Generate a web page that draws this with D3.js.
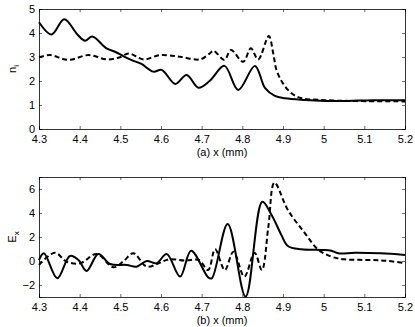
<!DOCTYPE html>
<html>
<head>
<meta charset="utf-8">
<script src="https://cdn.jsdelivr.net/npm/d3@7"></script>
<style>
body { margin: 0; background: #fff; }
svg { font-family: "Liberation Sans", Arial, sans-serif; }
.tick text { font-size: 11px; }
</style>
</head>
<body>
<svg id="chart" width="415" height="327"></svg>
<script>
var xTicks = [4.3, 4.4, 4.5, 4.6, 4.7, 4.8, 4.9, 5, 5.1, 5.2];

// panel (a): n_i
var niSolid = [
  [4.300, 4.45], [4.331, 3.94], [4.362, 4.57], [4.394, 3.95], [4.413, 3.68],
  [4.431, 3.85], [4.466, 3.36], [4.487, 3.22], [4.507, 3.04], [4.528, 2.87],
  [4.552, 2.71], [4.581, 2.39], [4.602, 2.46], [4.635, 1.88], [4.663, 2.25],
  [4.692, 1.72], [4.720, 2.01], [4.756, 2.63], [4.790, 1.63], [4.831, 2.63],
  [4.856, 1.70], [4.880, 1.38], [4.905, 1.28], [4.954, 1.21], [5.003, 1.17],
  [5.052, 1.17], [5.120, 1.20], [5.200, 1.20]
];
var niDashed = [
  [4.300, 2.99], [4.327, 3.08], [4.372, 2.88], [4.422, 3.08], [4.466, 2.90],
  [4.499, 2.99], [4.520, 3.15], [4.557, 2.90], [4.598, 3.08], [4.647, 3.01],
  [4.696, 2.90], [4.720, 3.15], [4.729, 3.26], [4.756, 2.88], [4.772, 3.29],
  [4.802, 2.80], [4.821, 3.36], [4.839, 2.90], [4.865, 3.87], [4.876, 3.15],
  [4.884, 2.46], [4.900, 1.90], [4.921, 1.49], [4.946, 1.28], [4.995, 1.21],
  [5.060, 1.17], [5.200, 1.15]
];

// panel (b): E_x
var exSolid = [
  [4.300, 0.08], [4.312, 0.64], [4.345, -1.44], [4.376, 0.42], [4.397, 0.08],
  [4.417, -0.83], [4.446, 0.58], [4.475, -0.25], [4.516, -0.33], [4.540, -0.47],
  [4.565, 0.00], [4.589, -0.19], [4.614, 0.58], [4.647, -1.30], [4.674, 0.86],
  [4.716, -1.36], [4.725, -1.44], [4.764, 3.08], [4.808, -2.97], [4.849, 4.94],
  [4.872, 3.83], [4.896, 2.17], [4.912, 1.25], [4.945, 0.97], [4.995, 0.92],
  [5.019, 0.86], [5.036, 0.64], [5.077, 0.69], [5.140, 0.64], [5.200, 0.50]
];
var exDashed = [
  [4.300, -0.33], [4.339, 0.69], [4.368, -0.06], [4.401, -0.19], [4.442, 0.58],
  [4.483, -0.53], [4.508, 0.00], [4.532, 0.64], [4.565, -0.47], [4.594, -0.19],
  [4.619, 0.14], [4.660, 0.03], [4.693, 0.08], [4.716, -0.75], [4.733, 0.97],
  [4.757, -0.75], [4.778, 0.78], [4.805, -1.30], [4.830, 0.69], [4.848, -0.75],
  [4.864, 2.86], [4.879, 6.53], [4.912, 4.25], [4.954, 2.31], [4.986, 0.97],
  [5.019, 0.36], [5.052, 0.14], [5.118, 0.08], [5.160, 0.00], [5.200, -0.19]
];

var svg = d3.select("#chart");
var left = 39, right = 405;

function panel(top, bottom, yDomain, yTicks, solid, dashed, yLabel, xLabel) {
  var x = d3.scaleLinear().domain([4.3, 5.2]).range([left, right]);
  var y = d3.scaleLinear().domain(yDomain).range([bottom, top]);
  var g = svg.append("g");

  var line = d3.line()
    .x(function(d) { return x(d[0]); })
    .y(function(d) { return y(d[1]); })
    .curve(d3.curveCatmullRom.alpha(0.5));

  g.append("path").datum(dashed)
    .attr("d", line).attr("fill", "none").attr("stroke", "#000")
    .attr("stroke-width", 2).attr("stroke-dasharray", "5,3");
  g.append("path").datum(solid)
    .attr("d", line).attr("fill", "none").attr("stroke", "#000")
    .attr("stroke-width", 2);

  // axes, ticks pointing inward
  g.append("g").attr("transform", "translate(0," + bottom + ")")
    .call(d3.axisBottom(x).tickValues(xTicks).tickSize(-3).tickPadding(6)
      .tickFormat(d3.format("")));
  g.append("g").attr("transform", "translate(0," + top + ")")
    .call(d3.axisTop(x).tickValues(xTicks).tickSize(-3).tickFormat(""));
  g.append("g").attr("transform", "translate(" + left + ",0)")
    .call(d3.axisLeft(y).tickValues(yTicks).tickSize(-3).tickPadding(4)
      .tickFormat(function(d) { return d < 0 ? "\u2212" + Math.abs(d) : d; }));
  g.append("g").attr("transform", "translate(" + right + ",0)")
    .call(d3.axisRight(y).tickValues(yTicks).tickSize(-3).tickFormat(""));

  g.selectAll(".domain").attr("stroke", "#000").attr("stroke-width", 0.8);
  g.selectAll(".tick line").attr("stroke", "#000").attr("stroke-width", 0.6);
  g.selectAll(".tick text").attr("fill", "#000");

  g.append("text")
    .attr("transform", "translate(16," + ((top + bottom) / 2) + ") rotate(-90)")
    .attr("text-anchor", "middle").attr("font-size", 11)
    .html(yLabel);
  g.append("text")
    .attr("x", (left + right) / 2).attr("y", bottom + 27)
    .attr("text-anchor", "middle").attr("font-size", 11)
    .text(xLabel);
}

panel(9, 129, [0, 5], [0, 1, 2, 3, 4, 5], niSolid, niDashed,
  'n<tspan font-size="8" dy="3">i</tspan>', "(a) x (mm)");
panel(177, 297, [-3, 7], [-2, 0, 2, 4, 6], exSolid, exDashed,
  'E<tspan font-size="8" dy="3">x</tspan>', "(b) x (mm)");
</script>
</body>
</html>
